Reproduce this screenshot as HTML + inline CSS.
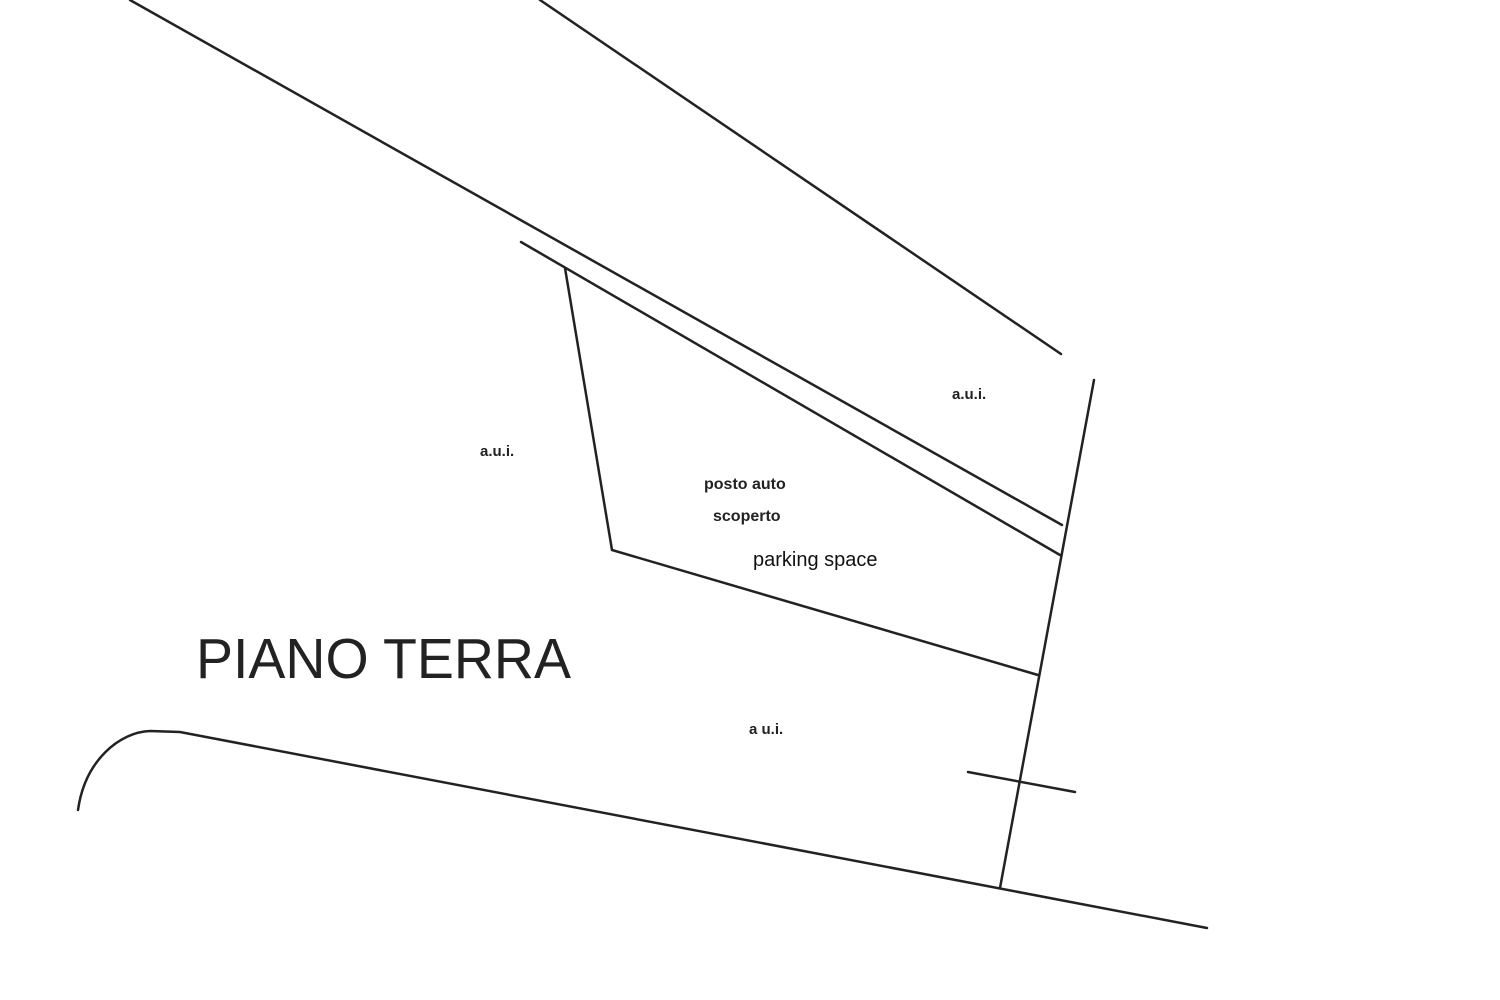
<!DOCTYPE html>
<html><head><meta charset="utf-8"><style>
html,body{margin:0;padding:0;background:#fff;}
svg{display:block;}
</style></head><body>
<svg width="1500" height="1000" viewBox="0 0 1500 1000" xmlns="http://www.w3.org/2000/svg">
<g stroke="#222" stroke-width="2.5" fill="none" stroke-linecap="round">
<line x1="130" y1="0" x2="1062" y2="525"/>
<line x1="540" y1="0" x2="1061" y2="354"/>
<line x1="521" y1="242" x2="1060" y2="555"/>
<polyline points="565,268 612,550 1038,675"/>
<line x1="1094" y1="380" x2="1000" y2="888"/>
<line x1="968" y1="772" x2="1075" y2="792"/>
<path d="M78,810 C85,760 120,732 150,731 L180,732 L1207,928"/>
</g>
<g font-family="Liberation Sans, sans-serif" fill="#222" font-weight="bold">
<text x="952" y="399" font-size="15">a.u.i.</text>
<text x="480" y="456" font-size="15">a.u.i.</text>
<text x="749" y="734" font-size="15">a u.i.</text>
<text x="704" y="489" font-size="16">posto auto</text>
<text x="713" y="521" font-size="16">scoperto</text>
</g>
<text x="753" y="566" font-family="Liberation Sans, sans-serif" font-size="20" fill="#111">parking space</text>
<text x="196" y="678" font-family="Liberation Sans, sans-serif" font-size="57" fill="#222" textLength="375" lengthAdjust="spacingAndGlyphs">PIANO TERRA</text>
</svg>
</body></html>
